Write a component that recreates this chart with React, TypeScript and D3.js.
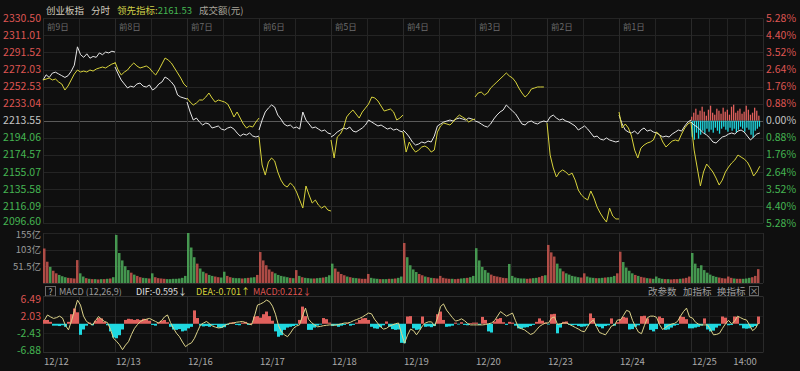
import { useEffect } from "react";
import * as d3 from "d3";

const W = 800;
const H = 371;
const LEFT = 43;
const RIGHT = 763;
const DAY_MIN = 240;

const DAY_LABELS = ["12/12", "12/13", "12/16", "12/17", "12/18", "12/19", "12/20", "12/23", "12/24", "12/25"];
const DAY_TAGS = ["前9日", "前8日", "前7日", "前6日", "前5日", "前4日", "前3日", "前2日", "前1日"];
const PRICE_TICKS = [2330.5, 2311.01, 2291.52, 2272.03, 2252.53, 2233.04, 2213.55, 2194.06, 2174.57, 2155.07, 2135.58, 2116.09, 2096.6];
const PCT_TICKS = ["5.28%", "4.40%", "3.52%", "2.64%", "1.76%", "0.88%", "0.00%", "0.88%", "1.76%", "2.64%", "3.52%", "4.40%", "5.28%"];
const PREV_CLOSE = 2213.55;
const VOL_TICKS = [155, 103, 51.5];
const MACD_TICKS = [6.49, 2.03, -2.43, -6.88];

// 创业板指, 10-min samples per day
const indexLine = [
  [2260, 2266, 2263, 2268, 2269, 2267, 2265, 2263, 2265, 2270, 2277, 2298, 2289, 2286, 2290, 2285, 2287, 2286, 2291, 2289, 2292, 2291, 2293, 2292],
  [2275, 2267, 2260, 2255.5, 2251, 2253, 2252, 2255.5, 2256.6, 2253, 2252, 2254.4, 2248.6, 2251, 2255.5, 2257.8, 2263.5, 2261.2, 2257.8, 2253.2, 2242.9, 2240.6, 2239.5, 2238.3],
  [2234.9, 2223.5, 2214.3, 2216.6, 2212, 2208.6, 2210.9, 2209.8, 2205.2, 2206.3, 2207.5, 2204, 2202.9, 2205.2, 2206.3, 2204, 2199.5, 2196, 2198.3, 2197.2, 2199.5, 2196, 2194.9, 2196],
  [2202.9, 2214.3, 2223.5, 2228, 2231.5, 2229.2, 2220, 2215.5, 2209.8, 2207.5, 2208.6, 2205.2, 2206.3, 2204, 2223.5, 2214.3, 2209.8, 2205.2, 2206.3, 2204, 2201.7, 2202.9, 2199.5, 2198.3],
  [2194.9, 2197.2, 2200.6, 2202.9, 2205.2, 2204, 2206.3, 2201.7, 2200.6, 2202.9, 2205.2, 2208.6, 2214.3, 2212, 2209.8, 2207.5, 2208.6, 2206.3, 2204, 2205.2, 2202.9, 2204, 2201.7, 2200.6],
  [2202.9, 2199.5, 2194.9, 2189.2, 2185.7, 2186.9, 2189.2, 2188, 2190.3, 2189.2, 2196, 2207.5, 2209.8, 2212, 2213.2, 2214.3, 2213.2, 2215.5, 2216.6, 2215.5, 2214.3, 2216.6, 2215.5, 2214.3],
  [2213.2, 2212, 2209.8, 2207.5, 2206.3, 2209.8, 2215.5, 2220, 2223.5, 2225.8, 2231.5, 2228, 2224.6, 2221.2, 2215.5, 2209.8, 2208.6, 2212, 2213.2, 2210.9, 2209.8, 2212, 2213.2, 2212],
  [2212, 2217.8, 2220, 2216.6, 2214.3, 2215.5, 2213.2, 2212, 2209.8, 2207.5, 2202.9, 2205.2, 2207.5, 2204, 2199.5, 2194.9, 2196, 2192.6, 2191.5, 2193.8, 2191.5, 2190.3, 2189.2, 2190.3],
  [2220, 2209.8, 2202.9, 2200.6, 2199.5, 2201.7, 2198.3, 2202.9, 2205.2, 2201.7, 2202.9, 2200.6, 2199.5, 2197.2, 2194.9, 2196, 2194.9, 2198.3, 2200.6, 2202.9, 2201.7, 2207.5, 2212, 2214.3],
  [2212, 2208.6, 2206.3, 2202.9, 2199.5, 2197.2, 2193.8, 2189.2, 2188, 2191.5, 2194.9, 2196, 2198.3, 2199.5, 2198.3, 2201.7, 2202.9, 2200.6, 2196, 2191.5, 2194.9, 2198.3, 2199.5],
];

// 领先指标
const leadLine = [
  [2260.1, 2261.2, 2262.3, 2260.1, 2261.2, 2257.8, 2255.5, 2248.6, 2253.2, 2260.1, 2266.9, 2271.5, 2269.2, 2270.3, 2269.2, 2271.5, 2270.3, 2272.6, 2273.8, 2274.9, 2273.8, 2276.1, 2278.3, 2279.5],
  [2280.6, 2271.5, 2265.8, 2269.2, 2271.5, 2276.1, 2279.5, 2276.1, 2273.8, 2274.9, 2276.1, 2273.8, 2269.2, 2265.8, 2271.5, 2278.4, 2285.2, 2282.9, 2279.5, 2273.8, 2268.1, 2262.3, 2255.5, 2252.1],
  [2239.5, 2234.9, 2231.5, 2233.8, 2237.2, 2237.2, 2240.6, 2245.2, 2239.5, 2234.9, 2237.2, 2236.1, 2234.9, 2232.6, 2225.8, 2217.8, 2223.5, 2216.6, 2209.8, 2205.2, 2207.5, 2206.3, 2212, 2216.6],
  [2194.9, 2162.9, 2151.4, 2166.3, 2170.9, 2167.5, 2154.9, 2145.7, 2140, 2137.7, 2142.3, 2138.9, 2132, 2122.9, 2113.7, 2138.9, 2128.6, 2119.4, 2122.9, 2117.1, 2113.7, 2116, 2111.4, 2110.3],
  [2191.5, 2170.9, 2194.9, 2198.3, 2205.2, 2217.8, 2222.3, 2225.8, 2221.2, 2216.6, 2223.5, 2228, 2232.6, 2240.6, 2239.5, 2236.1, 2230.3, 2224.6, 2225.8, 2226.9, 2223.5, 2214.3, 2216.6, 2220],
  [2200.6, 2177.7, 2189.2, 2182.3, 2177.7, 2180, 2183.5, 2184.6, 2182.3, 2177.7, 2180, 2200.6, 2207.5, 2210.9, 2209.8, 2208.6, 2212, 2216.6, 2220, 2217.8, 2215.5, 2212, 2214.3, 2215.5],
  [2240.6, 2245.2, 2246.3, 2242.9, 2245.2, 2250.9, 2254.4, 2257.8, 2261.2, 2264.6, 2268.1, 2264.6, 2262.3, 2257.8, 2250.9, 2245.2, 2240.6, 2244, 2249.8, 2250.9, 2252.1, 2252.1, 2252.1],
  [2210.9, 2174.3, 2159.5, 2149.2, 2154.9, 2157.2, 2154.9, 2151.4, 2153.7, 2145.7, 2134.3, 2128.6, 2125.2, 2122.9, 2133.2, 2125.2, 2114.9, 2108, 2102.3, 2097.7, 2113.7, 2104.6, 2101.2, 2101.2],
  [2223.5, 2205.2, 2209.8, 2205.2, 2196, 2180, 2170.9, 2182.3, 2185.7, 2188, 2189.2, 2191.5, 2200.6, 2197.2, 2189.2, 2183.5, 2186.9, 2190.3, 2191.5, 2190.3, 2198.3, 2205.2, 2209.8, 2212],
  [2210.9, 2180, 2159.5, 2138.9, 2154.9, 2164, 2159.5, 2154.9, 2148, 2140, 2145.7, 2154.9, 2160.6, 2165.2, 2168.6, 2174.3, 2172, 2169.7, 2166.3, 2159.5, 2150.3, 2154.9, 2161.53],
];

// 成交额 (亿), per 10 minutes
const volume = [
  [107, 66, 50, 38, 30, 25, 21, 18, 16, 15, 14, 71, 30, 20, 15, 13, 12, 12, 11, 12, 12, 13, 14, 18],
  [149, 93, 70, 52, 40, 32, 26, 22, 18, 16, 15, 14, 30, 18, 15, 14, 13, 12, 12, 13, 13, 14, 16, 22],
  [155, 110, 80, 60, 45, 35, 30, 25, 22, 20, 18, 17, 35, 22, 18, 16, 15, 15, 14, 15, 16, 17, 18, 25],
  [96, 70, 55, 42, 35, 30, 25, 22, 20, 18, 16, 15, 40, 22, 18, 16, 15, 14, 14, 15, 16, 17, 19, 24],
  [60, 45, 35, 28, 24, 20, 18, 16, 15, 14, 13, 13, 28, 16, 14, 13, 12, 12, 12, 13, 13, 14, 16, 20],
  [124, 80, 55, 42, 34, 28, 24, 20, 18, 16, 15, 14, 22, 16, 14, 13, 13, 12, 13, 14, 15, 16, 18, 22],
  [108, 70, 50, 40, 32, 26, 22, 20, 18, 16, 15, 59, 22, 17, 15, 14, 14, 13, 14, 15, 16, 18, 22, 24],
  [118, 95, 82, 60, 45, 36, 30, 26, 22, 20, 18, 17, 30, 20, 17, 16, 15, 15, 16, 17, 18, 19, 22, 30],
  [97, 65, 48, 38, 30, 25, 22, 19, 17, 15, 14, 13, 20, 15, 13, 12, 12, 11, 12, 12, 13, 14, 16, 20],
  [93, 60, 46, 55, 40, 32, 26, 22, 19, 17, 15, 14, 20, 16, 14, 13, 13, 13, 14, 16, 18, 22, 43],
];

// MACD line and histogram, per 10 minutes
const macdLine = [
  [1.0, 2.3, 1.8, 1.4, 1.6, 2.0, 1.5, -0.5, -1.6, 0.8, 3.5, 6.2, 4.9, 2.0, 0.6, 0.1, -0.3, 0.8, 1.9, 1.2, 0.6, 0.3, -1.5, -3.8],
  [-4.6, -5.5, -6.8, -5.6, -4.7, -2.8, -1.2, -0.2, 0.6, 1.0, 1.2, 1.4, 1.0, 0.6, 0.2, 0.8, 1.8, 2.3, 0.3, -1.2, -2.5, -3.4, -4.8, -6.0],
  [-5.4, -5.0, -3.8, -2.0, -0.3, 0.2, 0.6, 0, -0.6, -0.9, -1.1, -1.0, -0.5, -0.1, 0.1, 0.2, 0.4, 0.5, 0.6, 0.3, 0, -0.3, 2.0, 4.9],
  [5.2, 5.6, 6.2, 5.8, 4.6, 2.5, -0.5, -2.2, -2.9, -3.4, -2.4, -1.2, -0.6, -0.3, 2.0, 4.1, 1.2, 0.3, -0.3, -0.8, -0.7, -0.5, -0.4, -0.3],
  [-0.3, -0.4, -0.2, 0, 0.2, 0.2, 0.4, 0.8, 1.1, 1.4, 1.8, 2.3, 2.8, 2.6, 1.2, 0.2, -0.8, -1.4, -1.2, -0.6, -0.3, 0, 0.2, -2.5],
  [-5.1, -3.0, -1.4, -1.8, -2.9, -1.8, -0.5, 0.2, 0.5, 0.5, -0.6, 1.5, 4.5, 5.2, 3.6, 2.6, 1.6, 0.7, 0.9, 1.3, 0.8, 0.1, -0.3, -0.3],
  [-0.3, -0.3, -0.3, -0.2, 0, 0.2, 0.8, 2.0, 3.2, 2.6, 2.0, 2.4, 2.8, 0.8, -1.0, -1.3, -1.6, -2.2, -2.8, -2.5, -1.6, -0.7, -0.2, 0.2],
  [0.2, 1.5, 1.8, -0.2, 0, 0.2, 0.2, -0.2, -0.6, -1.0, -1.4, -1.9, -2.1, -0.8, 0.4, 1.0, -0.8, -2.3, -2.6, -2.9, -1.8, -0.6, -0.3, 1.0],
  [1.0, 2.2, 3.5, 3.2, 0.9, -0.8, -2.2, -2.6, -0.4, 1.6, 2.0, 2.0, 1.7, -0.2, -1.5, -1.0, -0.4, -0.1, 0.1, 0.6, 2.0, 3.2, 4.1, 1.8],
  [1.5, 0.4, -0.1, -0.3, -0.3, -0.3, -1.5, -2.9, -2.8, -2.5, -1.2, 0, 0.9, 0, 0.6, 2.0, 1.6, 1.2, 1.0, -0.3, -1.8, -1.2, 0.2],
];

const macdBar = [
  [1.0, 1.0, 0.5, -0.5, -0.5, -0.6, -0.4, -0.8, 0.5, 2.5, 4.0, 3.0, -2.9, -1.5, -0.5, 0.3, -0.4, 0.8, 1.5, 1.4, 0.5, -0.4, -2.0, -3.6],
  [-3.8, -3.0, -1.5, 1.0, 1.3, 1.2, 1.0, 1.2, 1.0, 1.3, 1.2, 0.8, -0.3, -0.5, 0.4, 0.8, 1.0, 0.4, -0.8, -1.5, -1.6, -1.4, -2.0, -1.8],
  [-1.2, -0.8, 3.5, 1.5, -0.5, -0.7, -0.6, -0.8, -0.4, -0.3, -1.0, -1.1, -0.9, -0.3, 0.3, 0.4, -0.3, -0.4, 0.3, 0.5, -0.3, 0.2, 1.9, 2.0],
  [1.6, 2.5, 3.2, 2.0, 0.8, -2.0, -3.4, -3.0, -1.6, -1.0, -0.8, -0.6, -0.3, 1.0, 4.5, 2.0, -1.6, -1.6, -1.0, -0.5, -0.2, 1.5, 1.2, 0.3],
  [-0.6, -0.4, -0.8, -0.5, -0.3, 0.2, -0.5, -0.3, 0.3, 1.0, 1.4, 1.5, 1.0, -0.8, -1.2, -1.3, -0.9, -0.4, 0.6, -0.8, -1.4, -1.6, -1.5, -5.0],
  [-5.1, 1.9, 2.0, -1.2, -1.6, -1.5, 1.9, -0.8, -0.7, -0.9, -0.6, 2.5, 3.2, 1.0, -0.8, -0.7, -0.5, 0.3, -0.2, 0.4, -0.3, -0.4, 0.2, 0.3],
  [0.3, -0.3, 1.8, 1.0, -2.0, -2.3, 0.6, 1.3, 1.5, 0.4, -0.3, 0.5, 0.3, -0.5, -1.2, -1.3, -1.0, -0.9, -0.6, -0.3, 0.5, 1.4, 0.8, 0.3],
  [-0.2, 2.5, 2.6, -2.5, -1.0, 0.5, 0.6, -0.3, -0.4, -0.3, -0.6, -0.8, -0.7, -0.5, 2.7, 1.5, -0.6, -0.8, -1.2, -0.6, -0.4, 1.4, -0.5, 0.4],
  [1.2, 1.8, 1.6, -1.5, -1.4, -0.8, -0.4, 2.0, 2.1, 1.4, -1.6, -2.0, -1.4, 1.9, 1.5, -1.6, -1.5, -1.0, -0.5, -0.3, 1.9, 1.8, 1.2, -1.2],
  [-1.2, -1.0, -0.8, -0.5, 1.4, -1.5, -2.0, -1.8, -1.0, -0.5, 1.9, 1.6, -0.4, -0.3, 1.9, 1.8, -0.4, -1.2, -1.3, -1.2, -0.9, -0.6, 1.9],
];

// today's buy / sell force, every 7 minutes
const buyForce = [4, 8, 12, 6, 10, 14, 9, 5, 11, 15, 8, 6, 12, 10, 7, 13, 9, 11, 6, 14, 16, 8, 10, 12, 7, 9, 15, 11, 6, 8, 13, 10, 5];
const sellForce = [16, 19, 12, 18, 14, 10, 13, 8, 11, 9, 12, 7, 10, 13, 8, 6, 9, 11, 7, 10, 8, 12, 9, 6, 8, 11, 7, 9, 14, 17, 10, 8, 6];

const FONT = "'Noto Sans CJK SC', 'Noto Sans', sans-serif";
const RED = "#de5552";
const GREEN = "#45b552";
const GRID = "#242424";

export default function App() {
  useEffect(() => {
    document.body.style.margin = "0";
    document.body.style.background = "#0f0f0f";
  }, []);

  const x = d3.scaleLinear().domain([0, DAY_MIN * DAY_LABELS.length]).range([LEFT, RIGHT]);
  const yP = d3.scaleLinear().domain([2096.6, 2330.5]).range([223, 18.4]);
  const yV = d3.scaleLinear().domain([0, 155]).range([283, 233]);
  const yM = d3.scaleLinear().domain([-6.88, 6.49]).range([350, 299]);
  const yF = d3.scaleLinear().domain([0, 20]).range([0, 20]);

  const crisp = (v: number) => Math.round(v) + 0.5;
  const line = d3
    .line<[number, number]>()
    .x((d) => x(d[0]))
    .y((d) => d[1]);

  const segPts = (vals: number[], d: number, y: (v: number) => number): [number, number][] =>
    vals.map((v, j) => [d * DAY_MIN + (j * DAY_MIN) / 23, y(v)]);

  const bucket = 10;
  const bw = x(bucket) - x(0);

  // vertical grid minutes
  const vMajor = d3.range(0, DAY_LABELS.length + 1).map((d) => d * DAY_MIN);
  const vMinor = d3.range(0, DAY_LABELS.length).map((d) => d * DAY_MIN + 120);
  vMinor.push(9 * DAY_MIN + 60, 9 * DAY_MIN + 180);

  const vGrid = (top: number, bottom: number) => (
    <g>
      {vMajor.concat(vMinor).map((m, i) => (
        <line key={i} x1={crisp(x(m))} x2={crisp(x(m))} y1={top} y2={bottom} stroke={i < vMajor.length ? "#2a2a2a" : GRID} />
      ))}
    </g>
  );

  const macdPts: [number, number][] = [];
  macdLine.forEach((day, d) => day.forEach((v, j) => macdPts.push([d * DAY_MIN + j * bucket + 5, yM(v)])));

  const zeroY = yP(PREV_CLOSE);

  return (
    <div style={{ position: "absolute", left: 0, top: 0, width: W, height: H, background: "#0f0f0f" }}>
      <svg width={W} height={H} style={{ display: "block", fontFamily: FONT }}>
        <rect width={W} height={H} fill="#0f0f0f" />

        {/* header */}
        <text x={46} y={13.5} fontSize={9.5}>
          <tspan fill="#cfcabd">创业板指</tspan>
          <tspan dx={7} fill="#cfcabd">分时</tspan>
          <tspan dx={7} fill="#cfcf48">领先指标:</tspan>
          <tspan fill={GREEN}>2161.53</tspan>
          <tspan dx={7} fill="#a8a49a">成交额(元)</tspan>
        </text>

        {/* main panel grid */}
        {PRICE_TICKS.map((t, i) => (
          <line key={i} x1={LEFT} x2={RIGHT} y1={crisp(yP(t))} y2={crisp(yP(t))} stroke={i === 6 ? "#5a5a5a" : GRID} />
        ))}
        {vGrid(yP(2330.5), yP(2096.6))}
        {DAY_TAGS.map((t, d) => (
          <text key={t} x={x(d * DAY_MIN) + 4} y={30} fontSize={8.5} fill="#6c6c6c">
            {t}
          </text>
        ))}

        {/* today's force bars */}
        {buyForce.map((v, k) => (
          <rect key={"b" + k} x={x(9 * DAY_MIN + k * 7)} y={zeroY - yF(v)} width={1.3} height={yF(v)} fill="#e0605c" />
        ))}
        {sellForce.map((v, k) => (
          <rect key={"s" + k} x={x(9 * DAY_MIN + k * 7) + 0.6} y={zeroY} width={1.3} height={yF(v)} fill="#1fd8e0" />
        ))}

        {/* price lines */}
        {indexLine.map((vals, d) => (
          <path key={"w" + d} d={line(segPts(vals, d, yP)) || ""} fill="none" stroke="#e6e6e6" strokeWidth={1} />
        ))}
        {leadLine.map((vals, d) => (
          <path key={"y" + d} d={line(segPts(vals, d, yP)) || ""} fill="none" stroke="#d8d33c" strokeWidth={1} />
        ))}

        {/* axes labels main */}
        {PRICE_TICKS.map((t, i) => (
          <text
            key={i}
            x={41}
            y={i === PRICE_TICKS.length - 1 ? yP(t) - 1.5 : yP(t)}
            dy="0.35em"
            textAnchor="end"
            fontSize={10.5}
            fill={i < 6 ? RED : i === 6 ? "#c4c4c4" : GREEN}
          >
            {t.toFixed(2)}
          </text>
        ))}
        {PCT_TICKS.map((t, i) => (
          <text key={i} x={766} y={yP(PRICE_TICKS[i])} dy="0.35em" fontSize={10.5} fill={i < 6 ? RED : i === 6 ? "#c4c4c4" : GREEN}>
            {t}
          </text>
        ))}

        {/* volume panel */}
        {VOL_TICKS.map((t) => (
          <line key={t} x1={LEFT} x2={RIGHT} y1={crisp(yV(t))} y2={crisp(yV(t))} stroke={GRID} />
        ))}
        {vGrid(yV(155), yV(0))}
        {volume.map((day, d) =>
          day.map((v, j) => {
            const cur = indexLine[d][j];
            const prev = j > 0 ? indexLine[d][j - 1] : d > 0 ? indexLine[d - 1][indexLine[d - 1].length - 1] : cur;
            return (
              <rect
                key={d + "-" + j}
                x={x(d * DAY_MIN + j * bucket)}
                y={yV(v)}
                width={bw - 0.5}
                height={yV(0) - yV(v)}
                fill={cur >= prev ? "#c9564f" : "#4eae5a"}
                fillOpacity={0.85}
              />
            );
          })
        )}
        {VOL_TICKS.map((t, i) => (
          <text key={t} x={41} y={i === 0 ? yV(t) + 2 : yV(t)} dy="0.35em" textAnchor="end" fontSize={9.5} fill="#9a9a9a">
            {t}亿
          </text>
        ))}
        <line x1={LEFT} x2={RIGHT} y1={283.5} y2={283.5} stroke="#2e2e2e" />

        {/* MACD header */}
        <rect x={45.5} y={286.5} width={10} height={9.5} fill="none" stroke="#6a6a6a" />
        <text x={50.5} y={294.5} textAnchor="middle" fontSize={8.5} fill="#aaa">
          ?
        </text>
        <text x={59} y={295} fontSize={9}>
          <tspan fill="#9a9a9a">MACD (12,26,9)</tspan>
          <tspan x={136} fill="#e2e2e2">DIF:-0.595↓</tspan>
          <tspan x={196} fill="#d8d33c">DEA:-0.701↑</tspan>
          <tspan x={253} fill={RED}>MACD:0.212↓</tspan>
        </text>
        <text y={295} fontSize={9.5} fill="#a0a0a0">
          <tspan x={648}>改参数</tspan>
          <tspan x={683}>加指标</tspan>
          <tspan x={717}>换指标</tspan>
        </text>
        <rect x={749.5} y={286.5} width={9} height={9} fill="none" stroke="#6a6a6a" />
        <text x={754} y={294.3} textAnchor="middle" fontSize={8.5} fill="#a0a0a0">
          ×
        </text>

        {/* MACD panel */}
        <line x1={LEFT} x2={RIGHT} y1={296.5} y2={296.5} stroke="#2e2e2e" />
        <line x1={LEFT} x2={RIGHT} y1={352.5} y2={352.5} stroke="#2e2e2e" />
        {[2.03, -2.43].map((t) => (
          <line key={t} x1={LEFT} x2={RIGHT} y1={crisp(yM(t))} y2={crisp(yM(t))} stroke="#1c1c1c" />
        ))}
        {vGrid(296.5, 352.5)}
        {macdBar.map((day, d) =>
          day.map((v, j) => (
            <rect
              key={d + "-" + j}
              x={x(d * DAY_MIN + j * bucket)}
              y={v >= 0 ? yM(v) : yM(0)}
              width={bw}
              height={Math.abs(yM(v) - yM(0))}
              fill={v >= 0 ? "#e0605c" : "#1fd8e0"}
            />
          ))
        )}
        <path d={line(macdPts) || ""} fill="none" stroke="#dcd38a" strokeWidth={1} />
        {MACD_TICKS.map((t) => (
          <text key={t} x={41} y={yM(t)} dy="0.35em" textAnchor="end" fontSize={10.5} fill={t > 0 ? RED : GREEN}>
            {t.toFixed(2)}
          </text>
        ))}

        {/* x axis */}
        {DAY_LABELS.map((t, d) => (
          <text key={t} x={x(d * DAY_MIN) + 1} y={364.5} fontSize={9.5} fill="#a8a8a8">
            {t}
          </text>
        ))}
        <text x={x(9 * DAY_MIN + 180)} y={364.5} textAnchor="middle" fontSize={9.5} fill="#a8a8a8">
          14:00
        </text>
      </svg>
    </div>
  );
}
